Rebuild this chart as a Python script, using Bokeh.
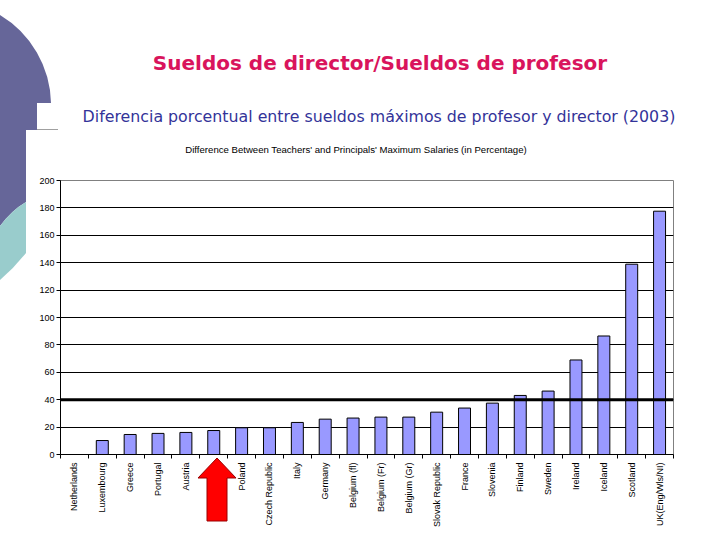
import math
from urllib.parse import quote
from bokeh.plotting import figure
from bokeh.layouts import column
from bokeh.models import (Range1d, FixedTicker, Span, Div, InlineStyleSheet)
from bokeh.embed import file_html
from bokeh.resources import INLINE

countries = ["Netherlands", "Luxembourg", "Greece", "Portugal", "Austria", "",
             "Poland", "Czech Republic", "Italy", "Germany", "Belgium (fl)",
             "Belgium (Fr)", "Belgium (Gr)", "Slovak Republic", "France",
             "Slovenia", "Finland", "Sweden", "Ireland", "Iceland", "Scotland",
             "UK(Eng/Wls/NI)"]
values = [0, 10.2, 14.6, 15.4, 16.1, 17.5, 19.5, 19.5, 23.4, 25.8, 26.6,
          27.3, 27.3, 30.9, 33.9, 37.5, 43.1, 46.3, 69.0, 86.5, 138.9, 177.6]
y_ticks = [0, 20, 40, 60, 80, 100, 120, 140, 160, 180, 200]

title = "Sueldos de director/Sueldos de profesor"
subtitle = "Diferencia porcentual entre sueldos máximos de profesor y director (2003)"
chart_title = "Difference Between Teachers' and Principals' Maximum Salaries (in Percentage)"

W, H = 720, 540
HEAD = 170                      # height of the title block
FL, FR, FT, FB = 60, 673, 180, 454  # frame edges in page pixels

n = len(countries)
xc = [i + 0.5 for i in range(n)]

p = figure(width=W, height=H - HEAD, output_backend="svg", toolbar_location=None,
           x_range=Range1d(0, n), y_range=Range1d(0, 200),
           min_border_left=FL, min_border_right=W - FR, min_border_top=FT - HEAD,
           min_border_bottom=H - FB, background_fill_color="white",
           border_fill_color="white", border_fill_alpha=0, margin=0)
p.outline_line_color = "#808080"

p.vbar(x=xc, top=values, width=0.43, fill_color="#9999FF",
       line_color="black", line_width=1)

# axes
xa = p.xaxis[0]
xa.ticker = FixedTicker(ticks=xc, minor_ticks=list(range(n + 1)))
xa.major_label_overrides = {c: name for c, name in zip(xc, countries)}
xa.major_tick_out = 0
xa.major_tick_in = 0
xa.minor_tick_out = 4
xa.minor_tick_in = 0
xa.minor_tick_line_color = "black"
xa.axis_line_color = "black"
xa.major_label_orientation = math.pi / 2
xa.major_label_text_font = "Liberation Sans"
xa.major_label_text_font_size = "9px"
xa.major_label_text_color = "black"
xa.major_label_standoff = 4

ya = p.yaxis[0]
ya.ticker = FixedTicker(ticks=y_ticks)
ya.major_tick_out = 4
ya.major_tick_in = 0
ya.minor_tick_line_color = None
ya.axis_line_color = "black"
ya.major_label_text_font = "Liberation Sans"
ya.major_label_text_font_size = "9px"
ya.major_label_text_color = "black"
ya.major_label_standoff = 2

p.xgrid.grid_line_color = None
p.ygrid.ticker = FixedTicker(ticks=y_ticks[1:-1])
p.ygrid.grid_line_color = "black"
p.ygrid.grid_line_width = 1
p.ygrid.grid_line_alpha = 1

p.add_layout(Span(location=40, dimension="width", line_color="black", line_width=3))

# title block
head_html = (
    '<div style="position:relative;width:720px;height:%dpx;">'
    '<div style="position:absolute;left:0;top:51px;width:760px;text-align:center;'
    'font-family:\'DejaVu Sans\';font-weight:bold;font-size:20px;line-height:24px;'
    'color:#D9145C;white-space:nowrap;">%s</div>'
    '<div style="position:absolute;left:0;top:107px;width:758px;text-align:center;'
    'font-family:\'DejaVu Sans\';font-size:15.8px;line-height:20px;'
    'color:#333399;white-space:nowrap;">%s</div>'
    '<div style="position:absolute;left:0;top:144px;width:712px;text-align:center;'
    'font-family:\'Liberation Sans\';font-size:9.6px;line-height:12px;'
    'color:black;white-space:nowrap;">%s</div>'
    '</div>' % (HEAD, title, subtitle, chart_title)
)
head = Div(text=head_html, width=W, height=HEAD, margin=0)

# slide decorations (background shapes and the red pointer arrow)
deco = (
    '<svg xmlns="http://www.w3.org/2000/svg" width="720" height="540">'
    '<path d="M 0 15 A 105 105 0 0 1 51 103 L 37 103 L 37 130 L 26 130 L 26 202 '
    'Q 12 210 0 226 Z" fill="#666699"/>'
    '<path d="M 26 202 Q 12 210 0 226 L 0 280 Q 14 268 26 253 Z" fill="#99CCCC"/>'
    '<line x1="37" y1="129.5" x2="58" y2="129.5" stroke="#A0A0A0" stroke-width="1"/>'
    '<polygon points="217,458 236,478 227,478 227,521 207,521 207,478 198,478" '
    'fill="#FF0000" stroke="#990000" stroke-width="1"/>'
    '</svg>'
)
uri = "data:image/svg+xml;utf8," + quote(deco)
page = column(head, p, spacing=0, margin=0)
page.stylesheets = [InlineStyleSheet(css=(
    ':host { background-color: white; background-image: url("%s"); '
    'background-repeat: no-repeat; background-position: 0 0; }' % uri))]

open("out.html", "w").write(file_html(page, INLINE))
